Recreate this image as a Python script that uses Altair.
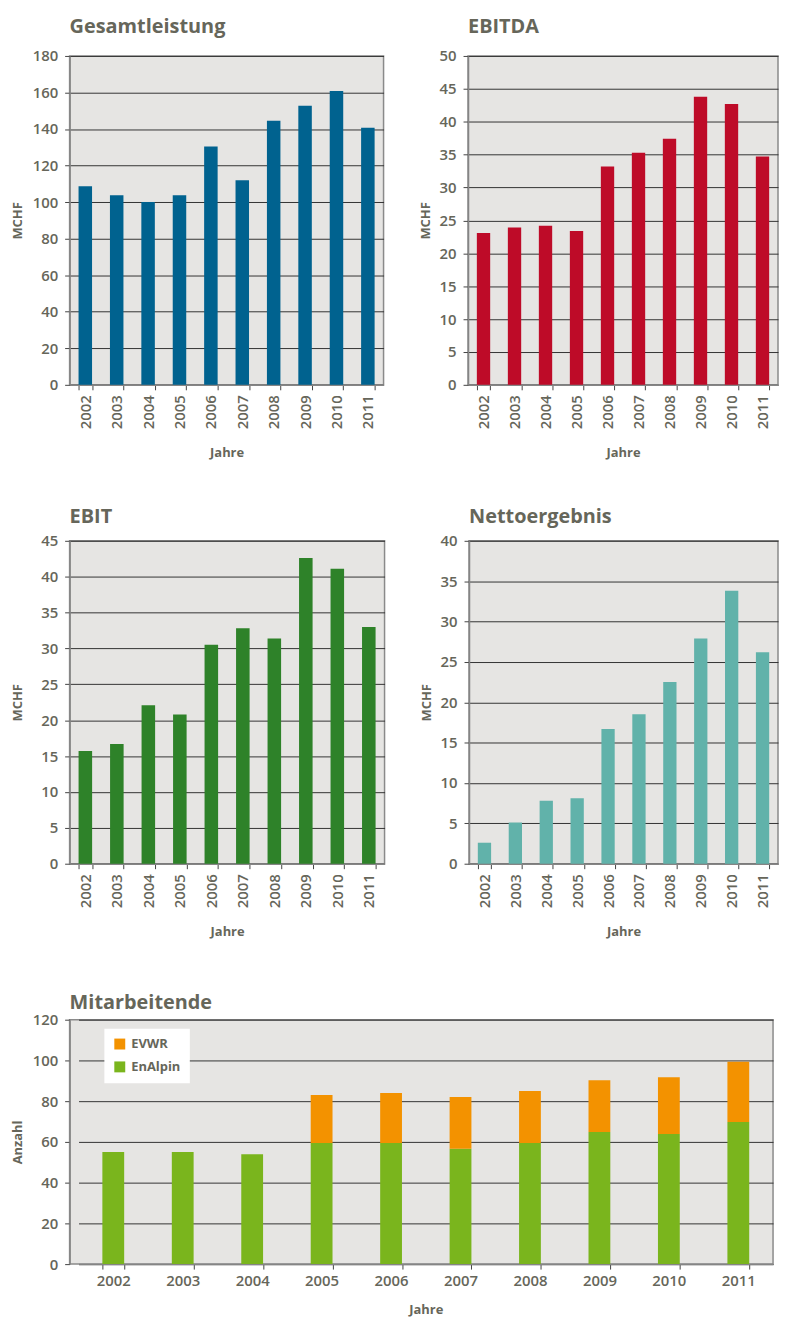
import altair as alt
import pandas as pd

# ---- data ----
years = ["2002", "2003", "2004", "2005", "2006", "2007", "2008", "2009", "2010", "2011"]
gesamtleistung = [108.7, 103.8, 100.0, 103.8, 130.4, 112.0, 144.5, 152.7, 160.8, 140.7]
ebitda = [23.1, 23.9, 24.2, 23.4, 33.2, 35.3, 37.4, 43.8, 42.7, 34.7]
ebit = [15.7, 16.7, 22.1, 20.8, 30.5, 32.8, 31.4, 42.6, 41.1, 33.0]
netto = [2.6, 5.1, 7.8, 8.1, 16.7, 18.5, 22.5, 27.9, 33.8, 26.2]
enalpin = [55.0, 55.0, 54.0, 59.5, 59.5, 56.6, 59.5, 64.9, 63.9, 69.8]
evwr = [0.0, 0.0, 0.0, 23.5, 24.5, 25.4, 25.5, 25.4, 27.9, 29.5]
series_names = ["EVWR", "EnAlpin"]
series_colors = ["#f39200", "#7ab51d"]

FONT = "Open Sans"
TEXT = "#66665a"
BG = "#e6e5e3"


def title(text, offset):
    return alt.TitleParams(text, anchor="start", frame="group", font=FONT, fontSize=20,
                           fontWeight="bold", color=TEXT, offset=offset)


def small_chart(values, name, color, ymax, ystep, width, height, extent, toff):
    df = pd.DataFrame({"Jahr": years, "Wert": values})
    return alt.Chart(df, title=title(name, toff)).mark_bar(color=color).encode(
        x=alt.X("Jahr:N", title="Jahre",
                scale=alt.Scale(paddingInner=0.57, paddingOuter=0.285),
                axis=alt.Axis(labelAngle=-90, tickBand="extent", grid=False,
                              labelPadding=5, titlePadding=18)),
        y=alt.Y("Wert:Q", title="MCHF",
                scale=alt.Scale(domain=[0, ymax], nice=False),
                axis=alt.Axis(values=list(range(0, ymax + 1, ystep)), grid=True,
                              minExtent=extent, maxExtent=extent, titlePadding=6,
                              labelPadding=7)),
    ).properties(width=width, height=height)


c1 = small_chart(gesamtleistung, "Gesamtleistung", "#00628f", 180, 20, 316, 331, 39, 12)
c2 = small_chart(ebitda, "EBITDA", "#be0b28", 50, 5, 312, 331, 30, 12)
c3 = small_chart(ebit, "EBIT", "#2e8229", 45, 5, 317, 325, 39, 7)
c4 = small_chart(netto, "Nettoergebnis", "#61b2aa", 40, 5, 311, 325, 30, 7)

rows = []
for i, y in enumerate(years):
    rows.append({"Jahr": y, "Serie": "EnAlpin", "Anzahl": enalpin[i], "ord": 0})
    rows.append({"Jahr": y, "Serie": "EVWR", "Anzahl": evwr[i], "ord": 1})
staff = pd.DataFrame(rows)

c5 = alt.Chart(staff, title=title("Mitarbeitende", 0)).mark_bar().encode(
    x=alt.X("Jahr:N", title="Jahre",
            scale=alt.Scale(paddingInner=0.686, paddingOuter=0.343, range=[9, 708]),
            axis=alt.Axis(labelAngle=0, tickBand="extent", grid=False,
                          labelPadding=5, titlePadding=15)),
    y=alt.Y("Anzahl:Q", title="Anzahl", stack="zero",
            scale=alt.Scale(domain=[0, 120], nice=False),
            axis=alt.Axis(values=list(range(0, 121, 20)), grid=True,
                          minExtent=39, maxExtent=39, titlePadding=6, labelPadding=7)),
    color=alt.Color("Serie:N", title=None,
                    scale=alt.Scale(domain=series_names, range=series_colors),
                    legend=alt.Legend(orient="none", legendX=35, legendY=979,
                                      fillColor="white", padding=9, symbolType="square",
                                      symbolSize=121, symbolStrokeWidth=0,
                                      labelFont=FONT, labelFontSize=13,
                                      labelFontWeight="bold", labelColor=TEXT,
                                      labelOffset=5, rowPadding=9)),
    order=alt.Order("ord:Q"),
).properties(width=708, height=246)

row1 = alt.hconcat(c1, c2, spacing=34)
row2 = alt.hconcat(c3, c4, spacing=34)
top = alt.vconcat(row1, row2, spacing=45)

chart = alt.vconcat(top, c5, spacing=52).properties(
    padding={"left": 3, "top": 4, "right": 0, "bottom": 0}
).configure_view(
    fill=BG, stroke="#8a8a8a", strokeWidth=1.5
).configure_axis(
    labelFont=FONT, labelFontSize=15, labelFontWeight=600, labelColor=TEXT,
    titleFont=FONT, titleFontSize=13, titleFontWeight="bold", titleColor=TEXT,
    domainColor="#858585", domainWidth=1.5, tickColor="#444444", tickSize=5,
    gridColor="#333333", gridWidth=1, gridOpacity=1,
)

chart.save("out.html", embed_options={"renderer": "svg", "actions": False})
